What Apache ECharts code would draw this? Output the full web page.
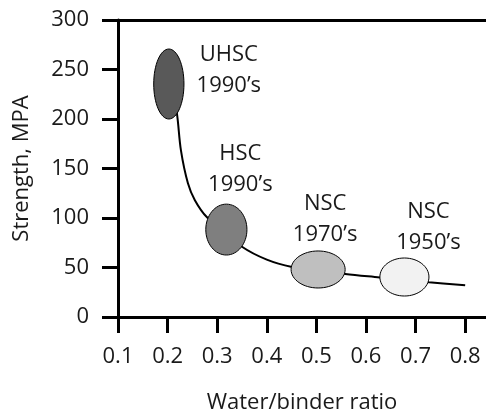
<!DOCTYPE html>
<html>
<head>
<meta charset="utf-8">
<script src="https://cdn.jsdelivr.net/npm/echarts@6/dist/echarts.min.js"></script>
<style>html,body{margin:0;padding:0;background:#fff;}#c{width:486px;height:412px;}</style>
</head>
<body>
<div id="c"></div>
<script>
// ---- data ----
const classNames = ['UHSC\n1990’s', 'HSC\n1990’s', 'NSC\n1970’s', 'NSC\n1950’s'];
const ratioMin = [0.172, 0.277, 0.449, 0.628];
const ratioMax = [0.233, 0.360, 0.558, 0.727];
const strengthMin = [200, 62.6, 29.3, 21.2];
const strengthMax = [270.7, 114, 66.7, 59.6];
const curveRatio    = [0.212, 0.219, 0.227, 0.241, 0.255, 0.279, 0.318, 0.350, 0.400, 0.451, 0.503, 0.558, 0.628, 0.678, 0.727, 0.800];
const curveStrength = [222,   205,   168,   135,   118,   101,   86,    71,    58,    50.5,  47,    43.5,  40,    37.5,  35,    32];
const xTicks = [0.1, 0.2, 0.3, 0.4, 0.5, 0.6, 0.7, 0.8];

// ---- styles ----
const fills = ['#595959', '#7f7f7f', '#bfbfbf', '#f2f2f2'];
const labelOffsets = [[60, -14], [14, -60], [7, -50], [24, -50]];
const FONT = '"Open Sans", "Noto Sans", sans-serif';
const TXT = '#1a1a1a';

const ellipseData = classNames.map((n, i) => [ratioMin[i], ratioMax[i], strengthMin[i], strengthMax[i]]);
const curveData = curveRatio.map((x, i) => [x, curveStrength[i]]);

const chart = echarts.init(document.getElementById('c'), null, {renderer: 'canvas'});
const axisLine = {show: true, lineStyle: {color: '#000', width: 3}};
chart.setOption({
  animation: false,
  grid: {left: 118, right: 0, top: 20, bottom: 95, containLabel: false, outerBoundsMode: 'none'},
  xAxis: [{
    type: 'value', min: 0.1, max: 0.842,
    axisLine: axisLine,
    axisTick: {show: true, length: 16, inside: false, lineStyle: {color: '#000', width: 3}, customValues: xTicks},
    axisLabel: {customValues: xTicks, formatter: v => v.toFixed(1), margin: 29, fontSize: 22, fontFamily: FONT, color: TXT},
    splitLine: {show: false},
    name: 'Water/binder ratio', nameLocation: 'middle', nameGap: 75,
    nameTextStyle: {fontSize: 22, fontFamily: FONT, color: TXT}
  }, {
    type: 'value', position: 'top', min: 0.1, max: 0.842,
    axisLine: axisLine, axisTick: {show: false}, axisLabel: {show: false}, splitLine: {show: false}
  }],
  yAxis: {
    type: 'value', min: 0, max: 300, interval: 50,
    axisLine: axisLine,
    axisTick: {show: true, length: 16, lineStyle: {color: '#000', width: 3}},
    axisLabel: {margin: 29, fontSize: 22, fontFamily: FONT, color: TXT},
    splitLine: {show: false},
    name: 'Strength, MPA', nameLocation: 'middle', nameRotate: 90, nameGap: 85,
    nameTextStyle: {fontSize: 22, fontFamily: FONT, color: TXT}
  },
  series: [{
    type: 'line', data: curveData, smooth: 0.35, showSymbol: false, z: 1,
    lineStyle: {color: '#000', width: 2}
  }, {
    type: 'custom', z: 5, data: ellipseData,
    encode: {x: [0, 1], y: [2, 3]},
    renderItem: function (params, api) {
      const i = params.dataIndex;
      const p1 = api.coord([api.value(0), api.value(3)]);
      const p2 = api.coord([api.value(1), api.value(2)]);
      const cx = (p1[0] + p2[0]) / 2, cy = (p1[1] + p2[1]) / 2;
      const rx = Math.abs(p2[0] - p1[0]) / 2, ry = Math.abs(p2[1] - p1[1]) / 2;
      return {
        type: 'group',
        children: [{
          type: 'ellipse', shape: {cx: cx, cy: cy, rx: rx, ry: ry},
          style: {fill: fills[i], stroke: '#000', lineWidth: 1}
        }, {
          type: 'text', x: cx + labelOffsets[i][0], y: cy + labelOffsets[i][1],
          style: {text: classNames[i], fill: TXT, font: '22px ' + FONT, align: 'center', verticalAlign: 'middle', lineHeight: 31}
        }]
      };
    }
  }]
});
</script>
</body>
</html>
